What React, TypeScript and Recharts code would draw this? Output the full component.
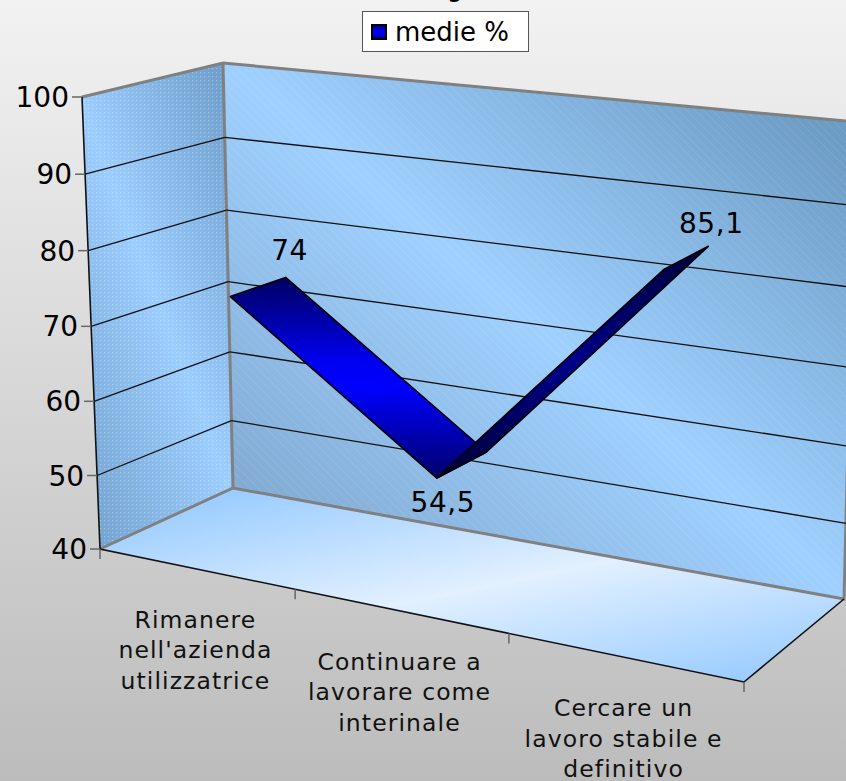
import React from 'react';
import { CartesianGrid, ComposedChart, Legend, Line, XAxis, YAxis } from 'recharts';

const W = 846;
const H = 781;

const CATEGORIES = ['Rimanere', 'Continuare', 'Cercare'];
const CATEGORY_LINES = [
  ['Rimanere', "nell'azienda", 'utilizzatrice'],
  ['Continuare a', 'lavorare come', 'interinale'],
  ['Cercare un', 'lavoro stabile e', 'definitivo'],
];
const VALUES = [74, 54.5, 85.1];
const VALUE_TICKS = [40, 50, 60, 70, 80, 90, 100];
const SERIES_NAME = 'medie %';
const LABEL_OFFSETS = [[4, -27], [6, 24], [3, -23]];

const data = CATEGORIES.map((name, i) => ({ name, value: VALUES[i] }));

// box corners on screen
const FBL = [100, 549], FBR = [744, 682], FTL = [82, 97], FTR = [760, 175];
const BBL = [233, 488], BBR = [844, 599], BTL = [223, 63], BTR = [856, 122];
const RIBBON_FRONT = 0.32;
const RIBBON_BACK = 0.74;
const FONT = '"DejaVu Sans", sans-serif';

const lerp = (a: number, b: number, t: number) => a + (b - a) * t;
const mix = (p: number[], q: number[], t: number) => [lerp(p[0], q[0], t), lerp(p[1], q[1], t)];
const warp = (t: number, k: number) => t / (t + k * (1 - t));

// plot coordinates + depth (0 front, 1 back) -> screen
const project = (x: number, y: number, d: number) => {
  const f = warp(x / W, 1.15);
  const rawV = 1 - y / H;
  const front = mix(mix(FBL, FBR, f), mix(FTL, FTR, f), warp(rawV, 1.03));
  const back = mix(mix(BBL, BBR, f), mix(BTL, BTR, f), warp(rawV, 1.06));
  return mix(front, back, d);
};

const poly = (pts: number[][]) => pts.map(p => p.map(n => n.toFixed(1)).join(',')).join(' ');

const GridLine = (props: any) => {
  // 40 and 100 are the box edges, already drawn
  if (props.y1 <= 0.5 || props.y1 >= H - 0.5) return <g key={props.key} />;
  const a = project(0, props.y1, 0);
  const b = project(0, props.y1, 1);
  const c = project(W, props.y1, 1);
  return (
    <g key={props.key}>
      <line x1={a[0]} y1={a[1]} x2={b[0]} y2={b[1]} stroke="#111" strokeWidth={1.3} />
      <line x1={b[0]} y1={b[1]} x2={c[0]} y2={c[1]} stroke="#111" strokeWidth={1.3} />
    </g>
  );
};

const ValueTick = (props: any) => {
  const p = project(0, props.y, 0);
  return (
    <g>
      <line x1={p[0] - 10} y1={p[1]} x2={p[0]} y2={p[1]} stroke="#666" strokeWidth={1.5} />
      <text x={p[0] - 13} y={p[1] + 10} textAnchor="end" fontFamily={FONT} fontSize={28} fill="#000">
        {props.payload.value}
      </text>
    </g>
  );
};

const CategoryTick = (props: any) => {
  const band = W / CATEGORIES.length;
  const i = props.index;
  const p = project(props.x, H, 0);
  const left = project(props.x - band / 2, H, 0);
  const right = project(props.x + band / 2, H, 0);
  return (
    <g>
      <line x1={left[0]} y1={left[1]} x2={left[0]} y2={left[1] + 10} stroke="#666" strokeWidth={1.5} />
      {i === CATEGORIES.length - 1 && (
        <line x1={right[0]} y1={right[1]} x2={right[0]} y2={right[1] + 10} stroke="#666" strokeWidth={1.5} />
      )}
      <text textAnchor="middle" fontFamily={FONT} fontSize={23.5} letterSpacing={1.1} fill="#111">
        {CATEGORY_LINES[i].map((t, k) => (
          <tspan key={t} x={p[0]} y={p[1] + 59 + k * 30.5}>{t}</tspan>
        ))}
      </text>
    </g>
  );
};

// the ribbon is drawn once, from the points the Line hands to its first dot
const Ribbon = (props: any) => {
  if (props.index !== 0) return <g key={props.key} />;
  const pts = props.points;
  const grads = ['url(#ribbonA)', 'url(#ribbonB)'];
  return (
    <g key={props.key}>
      {pts.slice(0, -1).map((pt: any, i: number) => {
        const next = pts[i + 1];
        const quad = [
          project(pt.x, pt.y, RIBBON_FRONT),
          project(pt.x, pt.y, RIBBON_BACK),
          project(next.x, next.y, RIBBON_BACK),
          project(next.x, next.y, RIBBON_FRONT),
        ];
        return <polygon key={i} points={poly(quad)} fill={grads[i]} stroke="#000" strokeWidth={1.6} strokeLinejoin="round" />;
      })}
    </g>
  );
};

const ValueLabel = (props: any) => {
  const depth = props.index === 1 ? RIBBON_FRONT : RIBBON_BACK;
  const p = project(props.x, props.y, depth);
  const off = LABEL_OFFSETS[props.index];
  return (
    <text x={p[0] + off[0]} y={p[1] + off[1] + 10} textAnchor="middle" fontFamily={FONT} fontSize={28} letterSpacing={0.6} fill="#000">
      {String(props.value).replace('.', ',')}
    </text>
  );
};

const LegendBox = (props: any) => (
  <div style={{ boxSizing: 'border-box', width: 167, height: 41, background: '#fff', border: '1.5px solid #555', display: 'flex', alignItems: 'center', paddingLeft: 8 }}>
    <span style={{ display: 'inline-block', boxSizing: 'border-box', width: 16, height: 16, background: 'linear-gradient(#0000a0,#0000ff,#0000a0)', border: '2px solid #000', marginRight: 8 }} />
    <span style={{ fontFamily: FONT, fontSize: 26, color: '#000' }}>{props.payload?.[0]?.value}</span>
  </div>
);

const Backdrop = () => (
  <svg width={W} height={H} style={{ position: 'absolute', left: 0, top: 0 }}>
    <defs>
      <linearGradient id="pageBg" x1="0" y1="0" x2="0" y2="1">
        <stop offset="0" stopColor="#f2f2f2" />
        <stop offset="1" stopColor="#bcbcbc" />
      </linearGradient>
      <linearGradient id="backWall" gradientUnits="userSpaceOnUse" x1={318} y1={588} x2={762} y2={72}>
        <stop offset="0" stopColor="#80a8cf" />
        <stop offset="0.5" stopColor="#9fd0ff" />
        <stop offset="1" stopColor="#6c9bc4" />
      </linearGradient>
      <linearGradient id="sideWall" gradientUnits="userSpaceOnUse" x1={22} y1={352} x2={292} y2={248}>
        <stop offset="0" stopColor="#74a3cf" />
        <stop offset="0.5" stopColor="#9ccdff" />
        <stop offset="1" stopColor="#6f9ecb" />
      </linearGradient>
      <linearGradient id="floorFill" gradientUnits="userSpaceOnUse" x1={233} y1={490} x2={290} y2={773}>
        <stop offset="0" stopColor="#9accff" />
        <stop offset="0.5" stopColor="#e2f0ff" />
        <stop offset="1" stopColor="#9accff" />
      </linearGradient>
      <pattern id="hatch" width={6} height={6} patternUnits="userSpaceOnUse" patternTransform="rotate(45)">
        <line x1={0} y1={0} x2={6} y2={0} stroke="#fff" strokeOpacity={0.16} strokeWidth={1} />
      </pattern>
      <pattern id="dots" width={4} height={4} patternUnits="userSpaceOnUse">
        <rect width={1.2} height={1.2} fill="#fff" fillOpacity={0.3} />
      </pattern>
    </defs>
    <rect width={W} height={H} fill="url(#pageBg)" />
    <text x={455} y={-4} textAnchor="middle" fontFamily={FONT} fontSize={26}>g</text>
    <polygon points={poly([BBL, BBR, BTR, BTL])} fill="url(#backWall)" />
    <polygon points={poly([BBL, BBR, BTR, BTL])} fill="url(#hatch)" />
    <polygon points={poly([FBL, BBL, BTL, FTL])} fill="url(#sideWall)" />
    <polygon points={poly([FBL, BBL, BTL, FTL])} fill="url(#dots)" />
    <polygon points={poly([FBL, FBR, BBR, BBL])} fill="url(#floorFill)" />
    <polyline points={poly([FTL, BTL, BTR])} fill="none" stroke="#808080" strokeWidth={3} />
    <polyline points={poly([FBL, BBL, BBR, BTR])} fill="none" stroke="#808080" strokeWidth={3} />
    <line x1={BTL[0]} y1={BTL[1]} x2={BBL[0]} y2={BBL[1]} stroke="#808080" strokeWidth={3} />
    <polyline points={poly([FTL, FBL, FBR, BBR])} fill="none" stroke="#111" strokeWidth={1.6} />
  </svg>
);

export default function App() {
  return (
    <div style={{ position: 'absolute', left: 0, top: 0, width: W, height: H, overflow: 'hidden' }}>
      <Backdrop />
      <div style={{ position: 'absolute', left: 0, top: 0 }}>
        <ComposedChart width={W} height={H} data={data} margin={{ top: 0, right: 0, bottom: -1, left: -1 }}>
          <defs>
            <linearGradient id="ribbonA" x1="0" y1="0" x2="0" y2="1">
              <stop offset="0" stopColor="#000060" />
              <stop offset="0.42" stopColor="#0000f0" />
              <stop offset="0.55" stopColor="#0000ff" />
              <stop offset="1" stopColor="#000068" />
            </linearGradient>
            <linearGradient id="ribbonB" x1="0" y1="0" x2="0" y2="1">
              <stop offset="0" stopColor="#000038" />
              <stop offset="0.5" stopColor="#00008a" />
              <stop offset="1" stopColor="#000038" />
            </linearGradient>
          </defs>
          <CartesianGrid horizontal={GridLine} vertical={false} />
          <XAxis dataKey="name" scale="band" height={1} axisLine={false} tickLine={false} interval={0} tick={CategoryTick} />
          <YAxis domain={[40, 100]} ticks={VALUE_TICKS} width={1} axisLine={false} tickLine={false} interval={0} tick={ValueTick} />
          <Legend
            layout="horizontal"
            verticalAlign="middle"
            align="center"
            content={LegendBox}
            wrapperStyle={{ left: 362, top: 11, width: 167, height: 41 }}
          />
          <Line
            dataKey="value"
            name={SERIES_NAME}
            stroke="none"
            dot={Ribbon}
            activeDot={false}
            label={ValueLabel}
            isAnimationActive={false}
          />
        </ComposedChart>
      </div>
    </div>
  );
}
